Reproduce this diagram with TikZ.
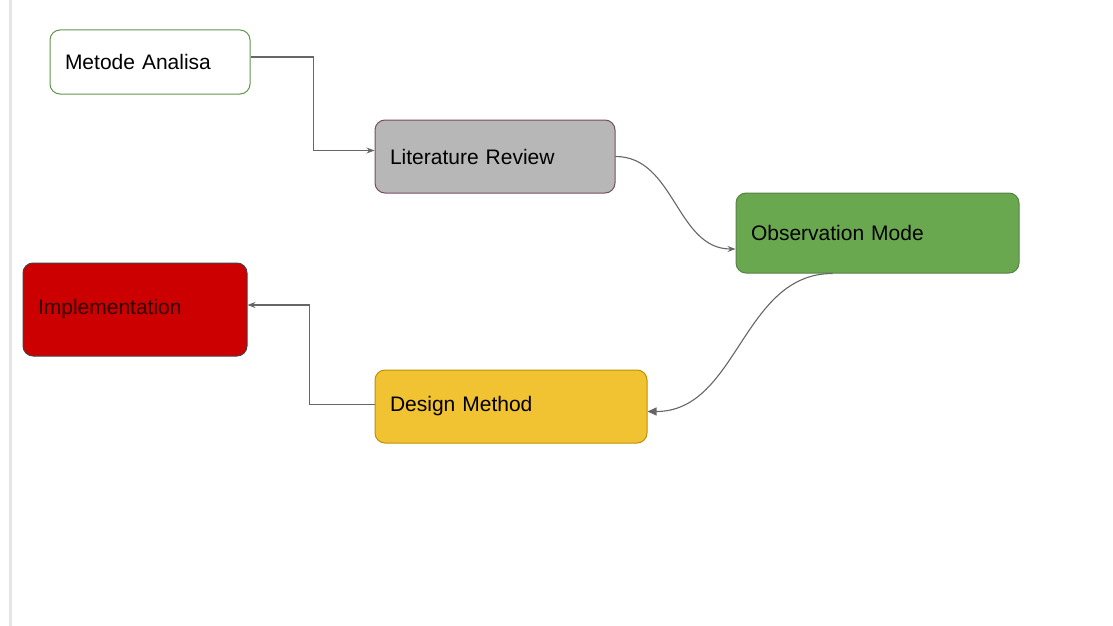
\documentclass[tikz,border=0pt]{standalone}
\usepackage{fontspec}
\setmainfont{Liberation Sans}
\usepackage{xcolor}
\usepackage{tikz}
\usetikzlibrary{positioning,calc,arrows.meta}
\definecolor{metodeline}{RGB}{98,148,74}
\definecolor{litfill}{RGB}{183,183,183}
\definecolor{litline}{RGB}{118,78,98}
\definecolor{obsfill}{RGB}{106,168,79}
\definecolor{obsline}{RGB}{88,128,72}
\definecolor{implfill}{RGB}{204,0,0}
\definecolor{implline}{RGB}{72,66,66}
\definecolor{desfill}{RGB}{241,194,50}
\definecolor{desline}{RGB}{191,144,0}
\definecolor{conn}{RGB}{102,102,102}

\begin{document}
\begin{tikzpicture}[
    x=1pt, y=-1pt,
    box/.style={draw, line width=1pt, rounded corners=10pt, align=left, inner xsep=15pt,
        font=\fontsize{21pt}{25pt}\selectfont},
    arrow/.style={-{Stealth[length=8pt,width=6pt]}, draw=conn, line width=1.1pt},
    farrow/.style={-{Triangle[length=9pt,width=8pt]}, draw=conn, line width=1.1pt}
]
\useasboundingbox (0,0) rectangle (1113,626);

% Left margin rule
\draw[line width=3pt, black!10] (10.5,0) -- (10.5,626);

% Steps
\node[box, draw=metodeline, fill=white, text width=170pt, minimum height=64pt] (metode) at (150,62) {Metode Analisa};
\node[box, draw=litline, fill=litfill, text width=210pt, minimum height=73pt] (litrev) at (495,156.5) {Literature Review};
\node[box, draw=obsline, fill=obsfill, text width=253pt, minimum height=80pt] (observ) at (877.5,233) {Observation Mode};
\node[box, draw=implline, fill=implfill, text=black!80!red, text width=194pt, minimum height=93pt] (impl) at (135,309.5) {Implementation};
\node[box, draw=desline, fill=desfill, text width=242pt, minimum height=73pt] (design) at (511,406.5) {Design Method};

% Connectors
\draw[arrow] ([yshift=5pt]metode.east) -- ++(63,0) |- ([yshift=6pt]litrev.west);
\draw[arrow] (litrev.east) to[out=0, in=180] ([yshift=-16pt]observ.west);
\draw[farrow] ([xshift=-45pt]observ.south) to[out=180, in=0] ([yshift=-5pt]design.east);
\draw[arrow] ([yshift=2pt]design.west) -- ++(-65,0) |- ([yshift=4.5pt]impl.east);

\end{tikzpicture}
\end{document}
